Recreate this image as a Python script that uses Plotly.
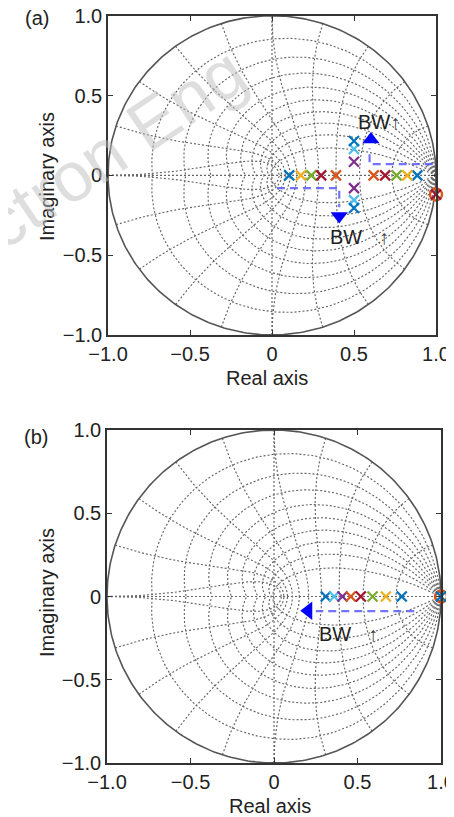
import numpy as np
import plotly.graph_objects as go

# ---------------- data ----------------
# z-plane grid parameters (damping ratios, natural frequencies as fractions of pi)
GRID_ZETA = [0.1, 0.2, 0.3, 0.4, 0.5, 0.6, 0.7, 0.8, 0.9]
GRID_WN = [0.1, 0.2, 0.3, 0.4, 0.5, 0.6, 0.7, 0.8, 0.9, 1.0]

TICK_VALS = [-1.0, -0.5, 0.0, 0.5, 1.0]
TICK_TEXT = ["\u22121.0", "\u22120.5", "0", "0.5", "1.0"]

C_BLUE = "#0072BD"
C_ORANGE = "#D95319"
C_YELLOW = "#EDB120"
C_PURPLE = "#7E2F8E"
C_GREEN = "#77AC30"
C_LBLUE = "#4DBEEE"
C_DRED = "#A2142F"

# (a) poles: (color, real parts, imaginary parts)
A_POLE_COLORS = [C_BLUE, C_YELLOW, C_GREEN, C_DRED, C_ORANGE, C_PURPLE, C_LBLUE, C_BLUE]
A_POLE_RE = [[0.105, 0.886], [0.176, 0.825], [0.24, 0.76], [0.30, 0.69], [0.39, 0.62],
             [0.5, 0.5], [0.5, 0.5], [0.5, 0.5]]
A_POLE_IM = [[0, 0], [0, 0], [0, 0], [0, 0], [0, 0],
             [0.085, -0.08], [0.165, -0.155], [0.215, -0.205]]
A_ZERO_RE = [1.0]
A_ZERO_IM = [-0.12]
A_ZERO_POLE_COLOR = C_DRED

# (b) poles on the real axis
B_POLE_COLORS = [C_BLUE, C_LBLUE, C_PURPLE, C_ORANGE, C_DRED, C_GREEN, C_YELLOW, C_BLUE]
B_POLE_RE = [0.31, 0.36, 0.41, 0.46, 0.52, 0.59, 0.67, 0.765]
B_ZERO_RE = [1.0]
B_ZERO_IM = [0.0]
B_ZERO_POLE_COLOR = C_BLUE

# annotation arrows (dashed paths and heads)
A_ARROW1_X = [0.98, 0.595, 0.595]
A_ARROW1_Y = [0.07, 0.07, 0.17]
A_HEAD1 = (0.603, 0.225)
A_ARROW2_X = [0.03, 0.41, 0.41]
A_ARROW2_Y = [-0.08, -0.08, -0.20]
A_HEAD2 = (0.41, -0.255)
B_ARROW_X = [0.84, 0.25]
B_ARROW_Y = [-0.088, -0.088]
B_HEAD = (0.205, -0.085)

# ---------------- figure ----------------
# the page body has an 8px default margin, so figure coordinates are shifted by it
OFF = 8
W, H = 454, 817
fig = go.Figure()

def px_x(p):
    return (p - OFF) / W

def px_y(p):
    return 1 - (p - OFF) / H

axes = {
    "a": dict(x=(108, 436), y=(15.7, 335)),
    "b": dict(x=(107, 441), y=(430, 763)),
}

GRID_STYLE = dict(color="#666666", width=1.15, dash="2px,2px")

def add_grid(xa, ya):
    gx, gy = [], []
    th = np.linspace(0, np.pi, 121)
    for z in GRID_ZETA:
        m = np.tan(np.arcsin(z))
        zz = np.exp(th * (-m + 1j))
        for s in (1, -1):
            gx += list(zz.real) + [None]
            gy += list(s * zz.imag) + [None]
    ph = np.linspace(np.pi / 2, np.pi, 81)
    for w in GRID_WN:
        zz = np.exp(w * np.pi * np.exp(1j * ph))
        for s in (1, -1):
            gx += list(zz.real) + [None]
            gy += list(s * zz.imag) + [None]
    # axes lines through origin
    gx += [-1, 1, None, 0, 0, None]
    gy += [0, 0, None, -1, 1, None]
    fig.add_trace(go.Scatter(x=gx, y=gy, mode="lines", line=GRID_STYLE,
                             hoverinfo="skip", showlegend=False, xaxis=xa, yaxis=ya))
    t = np.linspace(0, 2 * np.pi, 361)
    fig.add_trace(go.Scatter(x=np.cos(t), y=np.sin(t), mode="lines",
                             line=dict(color="#555555", width=1.6),
                             hoverinfo="skip", showlegend=False, xaxis=xa, yaxis=ya))

def add_path(xs, ys, xa, ya):
    fig.add_trace(go.Scatter(x=xs, y=ys, mode="lines",
                             line=dict(color="rgba(90,90,255,0.85)", width=2.2, dash="8px,5px"),
                             hoverinfo="skip", showlegend=False, xaxis=xa, yaxis=ya))

def add_head(pt, sym, xa, ya, size=15):
    fig.add_trace(go.Scatter(x=[pt[0]], y=[pt[1]], mode="markers",
                             marker=dict(symbol=sym, size=size, color="#0000ff",
                                         line=dict(width=0)),
                             cliponaxis=False, hoverinfo="skip", showlegend=False,
                             xaxis=xa, yaxis=ya))

def add_poles(xs, ys, color, xa, ya):
    fig.add_trace(go.Scatter(x=xs, y=ys, mode="markers",
                             marker=dict(symbol="x-thin-open", size=10, color=color,
                                         line=dict(color=color, width=2.2)),
                             cliponaxis=False, showlegend=False, xaxis=xa, yaxis=ya))

def add_zero(xs, ys, xa, ya):
    fig.add_trace(go.Scatter(x=xs, y=ys, mode="markers",
                             marker=dict(symbol="circle-open", size=12, color=C_ORANGE,
                                         line=dict(color=C_ORANGE, width=2.4)),
                             cliponaxis=False, showlegend=False, xaxis=xa, yaxis=ya))

# panel (a)
add_grid("x", "y")
add_path(A_ARROW1_X, A_ARROW1_Y, "x", "y")
add_path(A_ARROW2_X, A_ARROW2_Y, "x", "y")
for c, xs, ys in zip(A_POLE_COLORS, A_POLE_RE, A_POLE_IM):
    add_poles(xs, ys, c, "x", "y")
add_zero(A_ZERO_RE, A_ZERO_IM, "x", "y")
add_poles(A_ZERO_RE, A_ZERO_IM, A_ZERO_POLE_COLOR, "x", "y")
add_head(A_HEAD1, "triangle-up", "x", "y")
add_head(A_HEAD2, "triangle-down", "x", "y")

# panel (b)
add_grid("x2", "y2")
add_path(B_ARROW_X, B_ARROW_Y, "x2", "y2")
for c, xv in zip(B_POLE_COLORS, B_POLE_RE):
    add_poles([xv], [0.0], c, "x2", "y2")
add_zero(B_ZERO_RE, B_ZERO_IM, "x2", "y2")
add_poles(B_ZERO_RE, B_ZERO_IM, B_ZERO_POLE_COLOR, "x2", "y2")
add_head(B_HEAD, "triangle-left", "x2", "y2", size=16)

FONT = "Liberation Sans, Arial, sans-serif"
axis_common = dict(range=[-1, 1], tickmode="array", tickvals=TICK_VALS, ticktext=TICK_TEXT,
                   ticks="inside", ticklen=5, tickwidth=1.2, tickcolor="#333",
                   showline=True, linecolor="#333", linewidth=1.6, mirror="ticks",
                   showgrid=False, zeroline=False, automargin=False,
                   ticklabeloverflow="allow",
                   tickfont=dict(family=FONT, size=20, color="#222"))

layout = dict(width=W, height=H, margin=dict(l=0, r=0, t=0, b=0, pad=0), autosize=False,
              paper_bgcolor="white", plot_bgcolor="white", showlegend=False)
for key, ax in axes.items():
    suffix = "" if key == "a" else "2"
    layout["xaxis" + suffix] = dict(axis_common, domain=[px_x(ax["x"][0]), px_x(ax["x"][1])],
                                    anchor="y" + suffix)
    layout["yaxis" + suffix] = dict(axis_common, domain=[px_y(ax["y"][1]), px_y(ax["y"][0])],
                                    anchor="x" + suffix)
fig.update_layout(**layout)

ann = []
def pann(text, x, y, size=20, **kw):
    ann.append(dict(text=text, x=px_x(x), y=px_y(y), xref="paper", yref="paper",
                    xanchor="center", yanchor="middle",
                    showarrow=False, font=dict(family=FONT, size=size, color="#222"), **kw))

pann("(a)", 37, 18)
pann("(b)", 36, 437)
pann("Real axis", 267, 378)
pann("Real axis", 270, 806)
pann("Imaginary axis", 47, 177, textangle=-90)
pann("Imaginary axis", 47, 593, textangle=-90)

ARROW_SPAN = "<span style='color:#444'>\u2191</span>"
def dann(text, x, y, xa, ya):
    ann.append(dict(text=text, x=x, y=y, xref=xa, yref=ya, xanchor="left", yanchor="middle",
                    showarrow=False, font=dict(family=FONT, size=20, color="#222")))

dann("BW" + ARROW_SPAN, 0.515, 0.335, "x", "y")
dann("BW&nbsp; &nbsp;" + ARROW_SPAN, 0.34, -0.385, "x", "y")
dann("BW&nbsp; &nbsp;" + ARROW_SPAN, 0.255, -0.225, "x2", "y2")

# watermark
ann.append(dict(text="ctron Eng", x=px_x(114), y=px_y(148), xref="paper", yref="paper",
                xanchor="center", yanchor="middle",
                showarrow=False, textangle=-34,
                font=dict(family=FONT, size=70, color="rgba(190,190,190,0.5)")))

fig.update_layout(annotations=ann)
fig.write_html("out.html")
